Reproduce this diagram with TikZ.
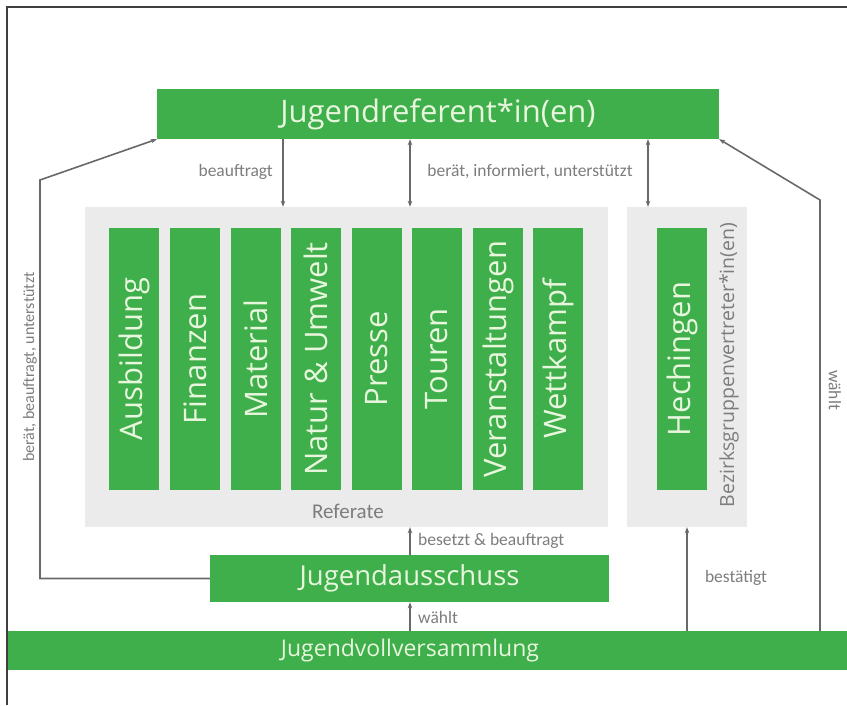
\documentclass[tikz,border=0pt]{standalone}
\usepackage{fontspec}
\setmainfont{Open Sans}
\newfontfamily\lblfont{Carlito}
\usetikzlibrary{arrows.meta}
\definecolor{gbox}{RGB}{62,175,74}
\definecolor{gtext}{RGB}{232,246,222}
\definecolor{panel}{RGB}{235,235,235}
\definecolor{lnk}{RGB}{105,105,105}
\definecolor{lbl}{RGB}{125,125,125}
\tikzset{
  greenbox/.style={fill=gbox, draw=none, inner sep=0pt, text=gtext, align=center},
  colbox/.style={greenbox, minimum width=50pt, minimum height=262pt},
  coltext/.style={text=gtext, rotate=90, inner sep=0pt, font=\fontsize{31}{31}\selectfont},
  panelbox/.style={fill=panel, draw=none, inner sep=0pt},
  link/.style={draw=lnk, line width=1.6pt},
  tip/.style={-{Stealth[length=6pt,width=4.5pt]}},
  dtip/.style={{Stealth[length=6pt,width=4.5pt]}-{Stealth[length=6pt,width=4.5pt]}},
  small/.style={text=lbl, inner sep=0pt, font=\lblfont\fontsize{17.5}{17.5}\selectfont},
}
\begin{document}
\begin{tikzpicture}[x=1pt, y=-1pt]
\useasboundingbox (0,0) rectangle (847,705);
\fill[white] (0,0) rectangle (847,705);
% frame
\draw[draw=black!75, line width=1.5pt] (7,705) -- (7,7) -- (847,7);

% top box
\node[greenbox, minimum width=562pt, minimum height=50pt, font=\fontsize{31}{31}\selectfont] (top) at (438,114) {Jugendreferent*in(en)};

% panels
\node[panelbox, minimum width=523pt, minimum height=320pt] (ref) at (346.5,367) {};
\node[panelbox, minimum width=120pt, minimum height=320pt] (bgv) at (687,367) {};

% columns
\foreach \nm/\x/\t in {c1/134/Ausbildung, c2/195/Finanzen, c3/256/Material, c4/316/Natur \& Umwelt, c5/377/Presse, c6/437/Touren, c7/498/Veranstaltungen, c8/558/Wettkampf, c9/682/Hechingen}{
  \node[colbox] (\nm) at (\x,359) {};
  \node[coltext] (\nm t) at (\nm.center) {\t};
}
\node[small, font=\lblfont\fontsize{21}{21}\selectfont] (reflbl) at (348,511) {Referate};
\node[text=lbl, inner sep=0pt, rotate=90, font=\fontsize{19.5}{19.5}\selectfont] (bgvlbl) at (729,365) {Bezirksgruppenvertreter*in(en)};

% Jugendausschuss and Jugendvollversammlung
\node[greenbox, minimum width=399pt, minimum height=47pt, font=\fontsize{27.5}{27.5}\selectfont] (ja) at (409.5,578.5) {Jugendausschuss};
\node[greenbox, minimum width=839pt, minimum height=39pt] (jv) at (427.5,650.5) {};
\node[text=gtext, inner sep=0pt, font=\fontsize{23}{23}\selectfont] (jvt) at (410,650.5) {Jugendvollversammlung};

% coordinates for connector positions
\coordinate (xa) at (283,0);
\coordinate (xb) at (410,0);
\coordinate (xc) at (648,0);
\coordinate (xd) at (687,0);
\coordinate (lc1) at (40,180);
\coordinate (rc1) at (820,200);

% connectors
\draw[link, tip] (top.south -| xa) -- (ref.north -| xa);
\draw[link, dtip] (top.south -| xb) -- (ref.north -| xb);
\draw[link, dtip] (top.south -| xc) -- (bgv.north -| xc);
\draw[link, tip] (ja.north -| xb) -- (ref.south -| xb);
\draw[link, tip] (jv.north -| xb) -- (ja.south -| xb);
\draw[link, tip] (jv.north -| xd) -- (bgv.south -| xd);
\draw[link, tip] (ja.west) -- (lc1 |- ja.west) -- (lc1) -- (top.south west);
\draw[link, tip] (jv.north -| rc1) -- (rc1) -- (top.south east);

% labels
\node[small, anchor=east] (l1) at (273,172) {beauftragt};
\node[small] (l2) at (530,172) {berät, informiert, unterstützt};
\node[small, anchor=west] (l3) at (418,541) {besetzt \& beauftragt};
\node[small, anchor=west] (l4) at (418,617) {wählt};
\node[small] (l5) at (736,578) {bestätigt};
\node[small, rotate=-90] (l6) at (835,390) {wählt};
\node[small, rotate=90, font=\lblfont\fontsize{16}{16}\selectfont] (l7) at (30,367) {berät, beauftragt, unterstützt};
\end{tikzpicture}
\end{document}
